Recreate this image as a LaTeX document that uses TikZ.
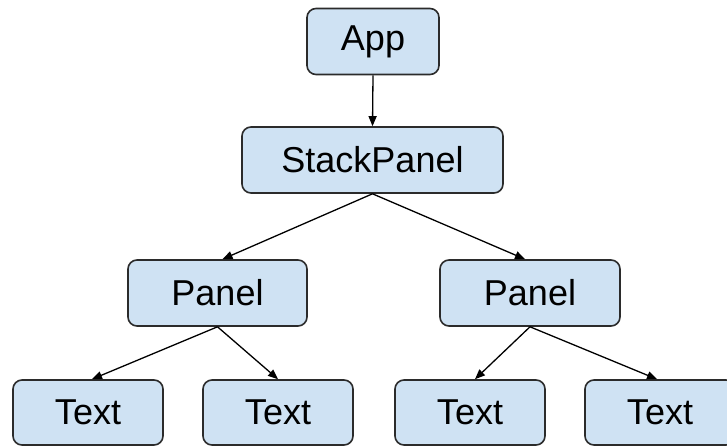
\documentclass[tikz,border=0pt]{standalone}
\usepackage{fontspec}
\setmainfont{Liberation Sans}
\usetikzlibrary{arrows.meta}
\definecolor{boxfill}{HTML}{CFE2F3}
\definecolor{boxline}{HTML}{2B2B2B}
\tikzset{
  treebox/.style={draw=boxline, fill=boxfill, line width=1.6pt, rounded corners=9pt,
    inner sep=0pt, minimum height=66pt, font=\fontsize{36}{40}\selectfont},
  link/.style={draw=black, line width=1.3pt, -{Triangle[length=10pt,width=8pt]}}
}
\begin{document}
\begin{tikzpicture}[x=1pt,y=-1pt]
  \useasboundingbox (0,0) rectangle (727,446);
  \clip (0,0) rectangle (727,446);
  % tree nodes
  \node[treebox, minimum width=132pt] (app) at (373,41.5) {App};
  \node[treebox, minimum width=261pt] (stack) at (372.5,160) {StackPanel};
  \node[treebox, minimum width=179pt] (panelL) at (217.5,293) {Panel};
  \node[treebox, minimum width=180pt] (panelR) at (530,293) {Panel};
  \node[treebox, minimum width=150pt, minimum height=65pt] (t1) at (88,412.5) {Text};
  \node[treebox, minimum width=150pt, minimum height=65pt] (t2) at (278,412.5) {Text};
  \node[treebox, minimum width=150pt, minimum height=65pt] (t3) at (470,412.5) {Text};
  \node[treebox, minimum width=150pt, minimum height=65pt] (t4) at (660,412.5) {Text};
  % parent-child links
  \draw[link] (app.south) -- (stack.north);
  \draw[link] (stack.south) -- ([xshift=5pt]panelL.north);
  \draw[link] (stack.south) -- ([xshift=-5pt]panelR.north);
  \draw[link] (panelL.south) -- ([xshift=4pt]t1.north);
  \draw[link] (panelL.south) -- (t2.north);
  \draw[link] (panelR.south) -- ([xshift=5pt]t3.north);
  \draw[link] (panelR.south) -- ([xshift=-3pt]t4.north);
\end{tikzpicture}
\end{document}
